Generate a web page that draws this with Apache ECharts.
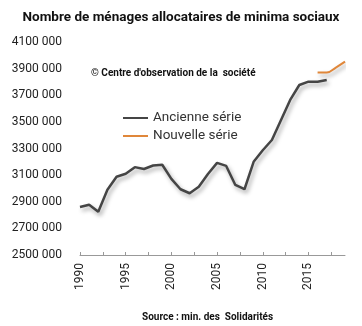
<!DOCTYPE html>
<html><head><meta charset="utf-8">
<script src="https://cdn.jsdelivr.net/npm/echarts@6/dist/echarts.min.js"></script>
<style>html,body{margin:0;padding:0;background:#fff}#c{width:362px;height:326px}</style>
</head><body><div id="c"></div>
<script>
var titleText = 'Nombre de ménages allocataires de minima sociaux';
var copyrightText = "© Centre d'observation de la  société";
var sourceText = 'Source : min. des  Solidarités';
var oldYears = [1990,1991,1992,1993,1994,1995,1996,1997,1998,1999,2000,2001,2002,2003,2004,2005,2006,2007,2008,2009,2010,2011,2012,2013,2014,2015,2016,2017];
var oldValues = [2860000,2878000,2825000,2990000,3088000,3110000,3160000,3146000,3172000,3178000,3072000,2994000,2964000,3013000,3109000,3192000,3169000,3026000,2994000,3200000,3287000,3364000,3514000,3665000,3777000,3802000,3802000,3815000];
var newYears = [2016,2017,2018,2019];
var newValues = [3870000,3870000,3908000,3952000];
var seriesNames = ['Ancienne série','Nouvelle série'];
var xLabelValues = [1990,1995,2000,2005,2010,2015];
var xTickValues = [1990,1992.5,1995,1997.5,2000,2002.5,2005,2007.5,2010,2012.5,2015,2017.5];

function pairs(xs, ys){ return xs.map(function(x,i){ return [x, ys[i]]; }); }
var shadow = {shadowColor:'rgba(0,0,0,0.35)', shadowBlur:4, shadowOffsetX:2, shadowOffsetY:3};

var chart = echarts.init(document.getElementById('c'));
chart.setOption({
  animation:false,
  backgroundColor:'#fff',
  title:[
    {text:titleText, left:'center', top:6, textStyle:{fontFamily:'Roboto', fontWeight:'bold', fontSize:13.5, color:'#111'}},
    {text:copyrightText, left:86, top:63, textStyle:{fontFamily:'Roboto', fontWeight:'bold', fontSize:10, color:'#111'}},
    {text:sourceText, left:137, top:307, textStyle:{fontFamily:'Roboto', fontWeight:'bold', fontSize:10, color:'#111'}}
  ],
  legend:{
    orient:'vertical', left:118, top:106, itemWidth:25, itemHeight:2, itemGap:4, icon:'rect',
    textStyle:{fontFamily:'Roboto', fontSize:13.5, color:'#333', padding:[0,0,0,0]},
    data:seriesNames
  },
  grid:{left:80, right:17, top:42, bottom:71},
  xAxis:{
    type:'value', min:1990, max:2019,
    axisLine:{lineStyle:{color:'#999'}},
    axisTick:{show:true, inside:true, length:3, customValues:xTickValues, lineStyle:{color:'#999'}},
    axisLabel:{customValues:xLabelValues, rotate:90, margin:8, fontFamily:'Roboto', fontSize:12, color:'#222',
      formatter:function(v){ return String(v); }},
    splitLine:{show:false}
  },
  yAxis:{
    type:'value', min:2500000, max:4100000, interval:200000,
    axisLine:{show:false}, axisTick:{show:false}, splitLine:{show:false},
    axisLabel:{margin:18, fontFamily:'Roboto', fontSize:12, color:'#222',
      formatter:function(v){ return Math.round(v/1000) + ' 000'; }}
  },
  series:[
    {name:seriesNames[0], type:'line', symbol:'none', data:pairs(oldYears, oldValues),
      lineStyle:Object.assign({color:'#454545', width:2.5}, shadow), itemStyle:{color:'#454545'}},
    {name:seriesNames[1], type:'line', symbol:'none', smooth:0.4, data:pairs(newYears, newValues),
      lineStyle:Object.assign({color:'#E0873A', width:2}, shadow), itemStyle:{color:'#E0873A'}}
  ]
});
</script></body></html>
